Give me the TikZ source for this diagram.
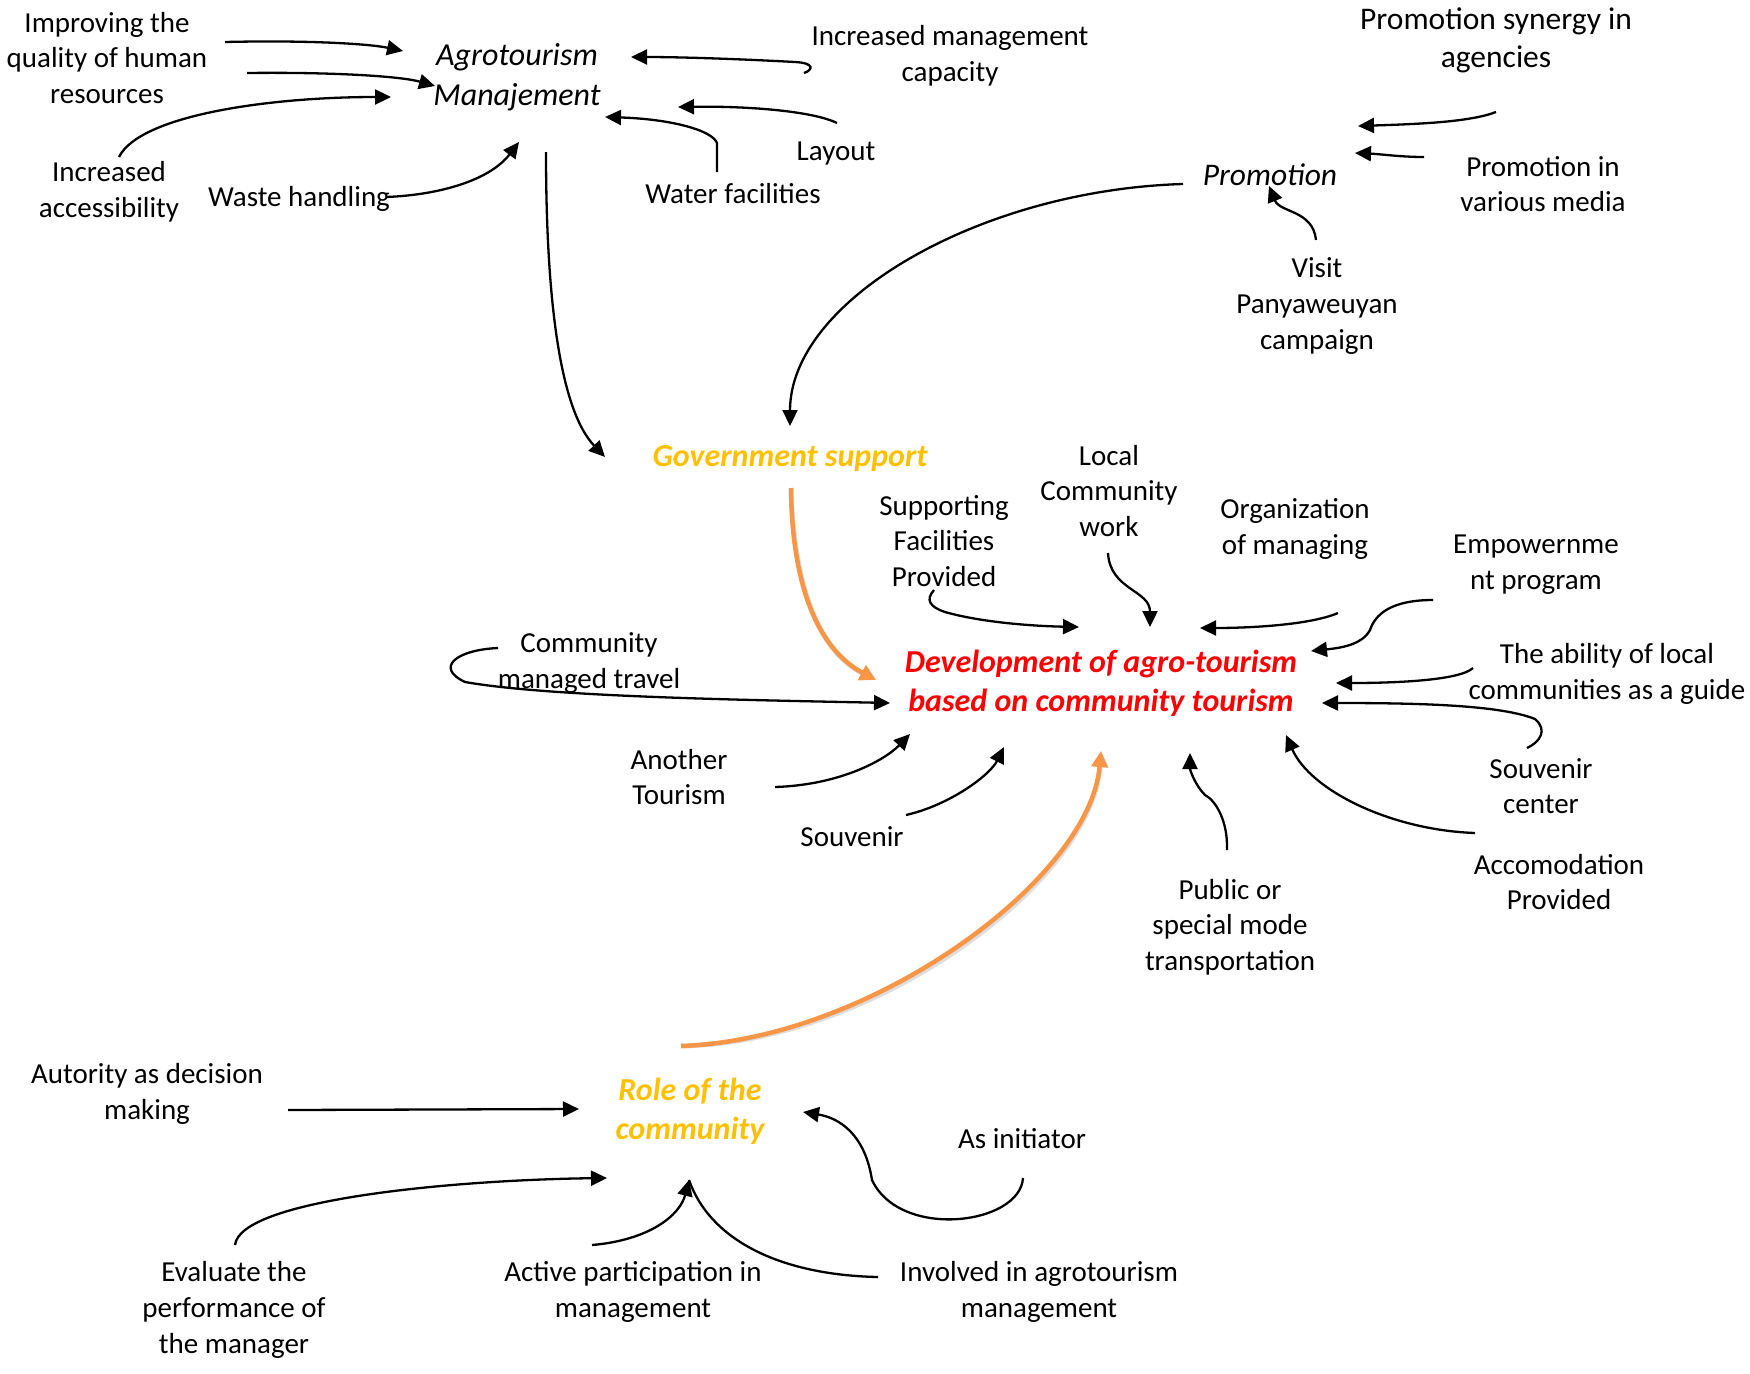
\documentclass[tikz,border=0pt]{standalone}
\usepackage{fontspec}
\setmainfont{Carlito}
\usetikzlibrary{arrows.meta}
\definecolor{gold}{HTML}{FFC000}
\definecolor{orng}{HTML}{F79646}
\definecolor{redt}{HTML}{FF0000}
\begin{document}
\begin{tikzpicture}[x=1pt,y=-1pt,
  lbl/.style={inner sep=0pt,align=center,font=\fontsize{29}{35.7}\selectfont},
  lbli/.style={lbl,font=\fontsize{32}{40}\selectfont\itshape},
  key/.style={lbl,font=\fontsize{32}{39}\selectfont\bfseries\itshape},
  arr/.style={line width=2.3pt,-{Triangle[length=16pt,width=15pt]}},
  plain/.style={line width=2.3pt},
  oarr/.style={line width=4.5pt,orng,-{Triangle[length=16pt,width=16pt]}},
  oshadow/.style={line width=5pt,black!25,opacity=0.5,-{Triangle[length=16pt,width=16pt]},shift={(2,3)}}]
\useasboundingbox (0,0) rectangle (1750,1373);
\fill[white] (0,0) rectangle (1750,1373);
% ---------- nodes ----------
\node[lbl] (imp) at (107,58) {Improving the\\quality of human\\resources};
\node[lbli] (agro) at (517,77) {Agrotourism\\Manajement};
\node[lbl] (imc) at (950,56) {Increased management\\capacity};
\node[lbl] (lay) at (836,154) {Layout};
\node[lbl] (wat) at (733,194) {Water facilities};
\node[lbl] (was) at (299,199) {Waste handling};
\node[lbl] (acc) at (109,192) {Increased\\accessibility};
\node[lbl,font=\fontsize{31.5}{38}\selectfont] (syn) at (1496,40) {Promotion synergy in\\agencies};
\node[lbli,font=\fontsize{31.5}{38}\selectfont\itshape] (prom) at (1270,175) {Promotion};
\node[lbl] (med) at (1543,184) {Promotion in\\various media};
\node[lbl] (vis) at (1317,306) {Visit\\Panyaweuyan\\campaign};
\node[key,text=gold] (gov) at (790,459) {Government support};
\node[lbl] (loc) at (1109,491) {Local\\Community\\work};
\node[lbl] (sup) at (944,541) {Supporting\\Facilities\\Provided};
\node[lbl] (org) at (1295,529) {Organization\\of managing};
\node[lbl] (emp) at (1536,565) {Empowernme\\nt program};
\node[key,text=redt] (dev) at (1101,683) {Development of agro-tourism\\based on community tourism};
\node[lbl] (cmt) at (589,663) {Community\\managed travel};
\node[lbl] (abl) at (1607,674) {The ability of local\\communities as a guide};
\node[lbl] (ano) at (679,777) {Another\\Tourism};
\node[lbl] (svc) at (1541,786) {Souvenir\\center};
\node[lbl] (sou) at (852,837) {Souvenir};
\node[lbl] (acm) at (1559,882) {Accomodation\\Provided};
\node[lbl] (pub) at (1230,927) {Public or\\special mode\\transportation};
\node[lbl] (aut) at (147,1094) {Autority as decision\\making};
\node[key,text=gold] (role) at (690,1111) {Role of the\\community};
\node[lbl] (ini) at (1022,1139) {As initiator};
\node[lbl] (eva) at (234,1310) {Evaluate the\\performance of\\the manager};
\node[lbl] (act) at (633,1292) {Active participation in\\management};
\node[lbl] (inv) at (1039,1292) {Involved in agrotourism\\management};
% ---------- connector end points ----------
\coordinate (imp1) at (225,42);   \coordinate (agro1) at (403,51);
\coordinate (imp2) at (247,73);   \coordinate (agro2) at (435,86);
\coordinate (acc1) at (119,157);  \coordinate (agro3) at (391,97);
\coordinate (was1) at (386,197);  \coordinate (agro4) at (519,142);
\coordinate (imc1) at (804,73);   \coordinate (agro5) at (631,57);
\coordinate (lay1) at (837,123);  \coordinate (agro6) at (678,107);
\coordinate (wat1) at (717,172);  \coordinate (agro7) at (605,117);
\coordinate (agro8) at (546,152); \coordinate (gov1) at (605,457);
\coordinate (syn1) at (1496,112); \coordinate (prom1) at (1358,126);
\coordinate (med1) at (1424,157); \coordinate (prom2) at (1355,153);
\coordinate (vis1) at (1316,240); \coordinate (prom3) at (1269,186);
\coordinate (prom4) at (1183,184);\coordinate (gov2) at (790,426);
\coordinate (gov3) at (791,488);  \coordinate (dev1) at (876,680);
\coordinate (sup1) at (934,590);  \coordinate (dev2) at (1079,627);
\coordinate (loc1) at (1108,553); \coordinate (dev3) at (1150,627);
\coordinate (org1) at (1338,613); \coordinate (dev4) at (1200,628);
\coordinate (emp1) at (1433,600); \coordinate (dev5) at (1311,651);
\coordinate (abl1) at (1473,668); \coordinate (dev6) at (1336,683);
\coordinate (svc1) at (1527,748); \coordinate (dev7) at (1322,703);
\coordinate (acm1) at (1475,833); \coordinate (dev8) at (1286,735);
\coordinate (pub1) at (1227,850); \coordinate (dev9) at (1190,753);
\coordinate (cmt1) at (498,648);  \coordinate (dev10) at (890,703);
\coordinate (ano1) at (775,787);  \coordinate (dev11) at (910,734);
\coordinate (sou1) at (906,815);  \coordinate (dev12) at (1004,747);
\coordinate (role1) at (681,1046);\coordinate (dev13) at (1101,751);
\coordinate (aut1) at (288,1110); \coordinate (role2) at (579,1109);
\coordinate (eva1) at (235,1245); \coordinate (role3) at (607,1178);
\coordinate (act1) at (592,1245); \coordinate (role4) at (689,1180);
\coordinate (inv1) at (878,1277);
\coordinate (ini1) at (1023,1178);\coordinate (role5) at (803,1112);
% ---------- connectors ----------
\draw[arr] (imp1) .. controls (310,40) and (370,44) .. (agro1);
\draw[arr] (imp2) .. controls (330,72) and (400,76) .. (agro2);
\draw[arr] (acc1) .. controls (140,115) and (270,97) .. (agro3);
\draw[arr] (was1) .. controls (440,195) and (490,180) .. (agro4);
\draw[arr] (imc1) .. controls (813,70) and (815,63) .. (795,62) .. controls (740,59) and (680,57) .. (agro5);
\draw[arr] (lay1) .. controls (810,110) and (740,106) .. (agro6);
\draw[arr] (wat1) -- (717,143) .. controls (712,130) and (670,119) .. (agro7);
\draw[arr] (agro8) .. controls (546,300) and (560,410) .. (gov1);
\draw[arr] (syn1) .. controls (1470,122) and (1420,124) .. (prom1);
\draw[arr] (med1) .. controls (1400,157) and (1380,154) .. (prom2);
\draw[arr] (vis1) .. controls (1313,210) and (1280,213) .. (prom3);
\draw[arr] (prom4) .. controls (980,190) and (790,300) .. (gov2);
\draw[oshadow] (gov3) .. controls (792,590) and (820,650) .. (dev1);
\draw[oarr] (gov3) .. controls (792,590) and (820,650) .. (dev1);
\draw[arr] (sup1) .. controls (925,600) and (930,607) .. (945,612) .. controls (980,622) and (1030,626) .. (dev2);
\draw[arr] (loc1) .. controls (1110,590) and (1150,590) .. (dev3);
\draw[arr] (org1) .. controls (1310,625) and (1250,628) .. (dev4);
\draw[arr] (emp1) .. controls (1390,600) and (1375,615) .. (1370,630) .. controls (1362,645) and (1340,648) .. (dev5);
\draw[arr] (abl1) .. controls (1460,680) and (1400,683) .. (dev6);
\draw[arr] (svc1) .. controls (1540,742) and (1548,730) .. (1535,719) .. controls (1500,705) and (1420,703) .. (dev7);
\draw[arr] (acm1) .. controls (1390,830) and (1310,790) .. (dev8);
\draw[arr] (pub1) .. controls (1228,820) and (1215,800) .. (1205,795) .. controls (1195,785) and (1190,770) .. (dev9);
\draw[arr] (cmt1) .. controls (455,650) and (435,668) .. (465,682) .. controls (550,697) and (750,700) .. (dev10);
\draw[arr] (ano1) .. controls (840,785) and (885,760) .. (dev11);
\draw[arr] (sou1) .. controls (950,805) and (990,775) .. (dev12);
\draw[oshadow] (role1) .. controls (870,1040) and (1090,880) .. (dev13);
\draw[oarr] (role1) .. controls (870,1040) and (1090,880) .. (dev13);
\draw[arr] (aut1) -- (role2);
\draw[arr] (eva1) .. controls (240,1200) and (450,1180) .. (role3);
\draw[arr] (act1) .. controls (650,1240) and (680,1215) .. (role4);
\draw[plain] (inv1) .. controls (780,1275) and (710,1240) .. (role4);
\draw[arr] (ini1) .. controls (1020,1225) and (900,1240) .. (872,1180) .. controls (865,1135) and (840,1118) .. (role5);
\end{tikzpicture}
\end{document}
